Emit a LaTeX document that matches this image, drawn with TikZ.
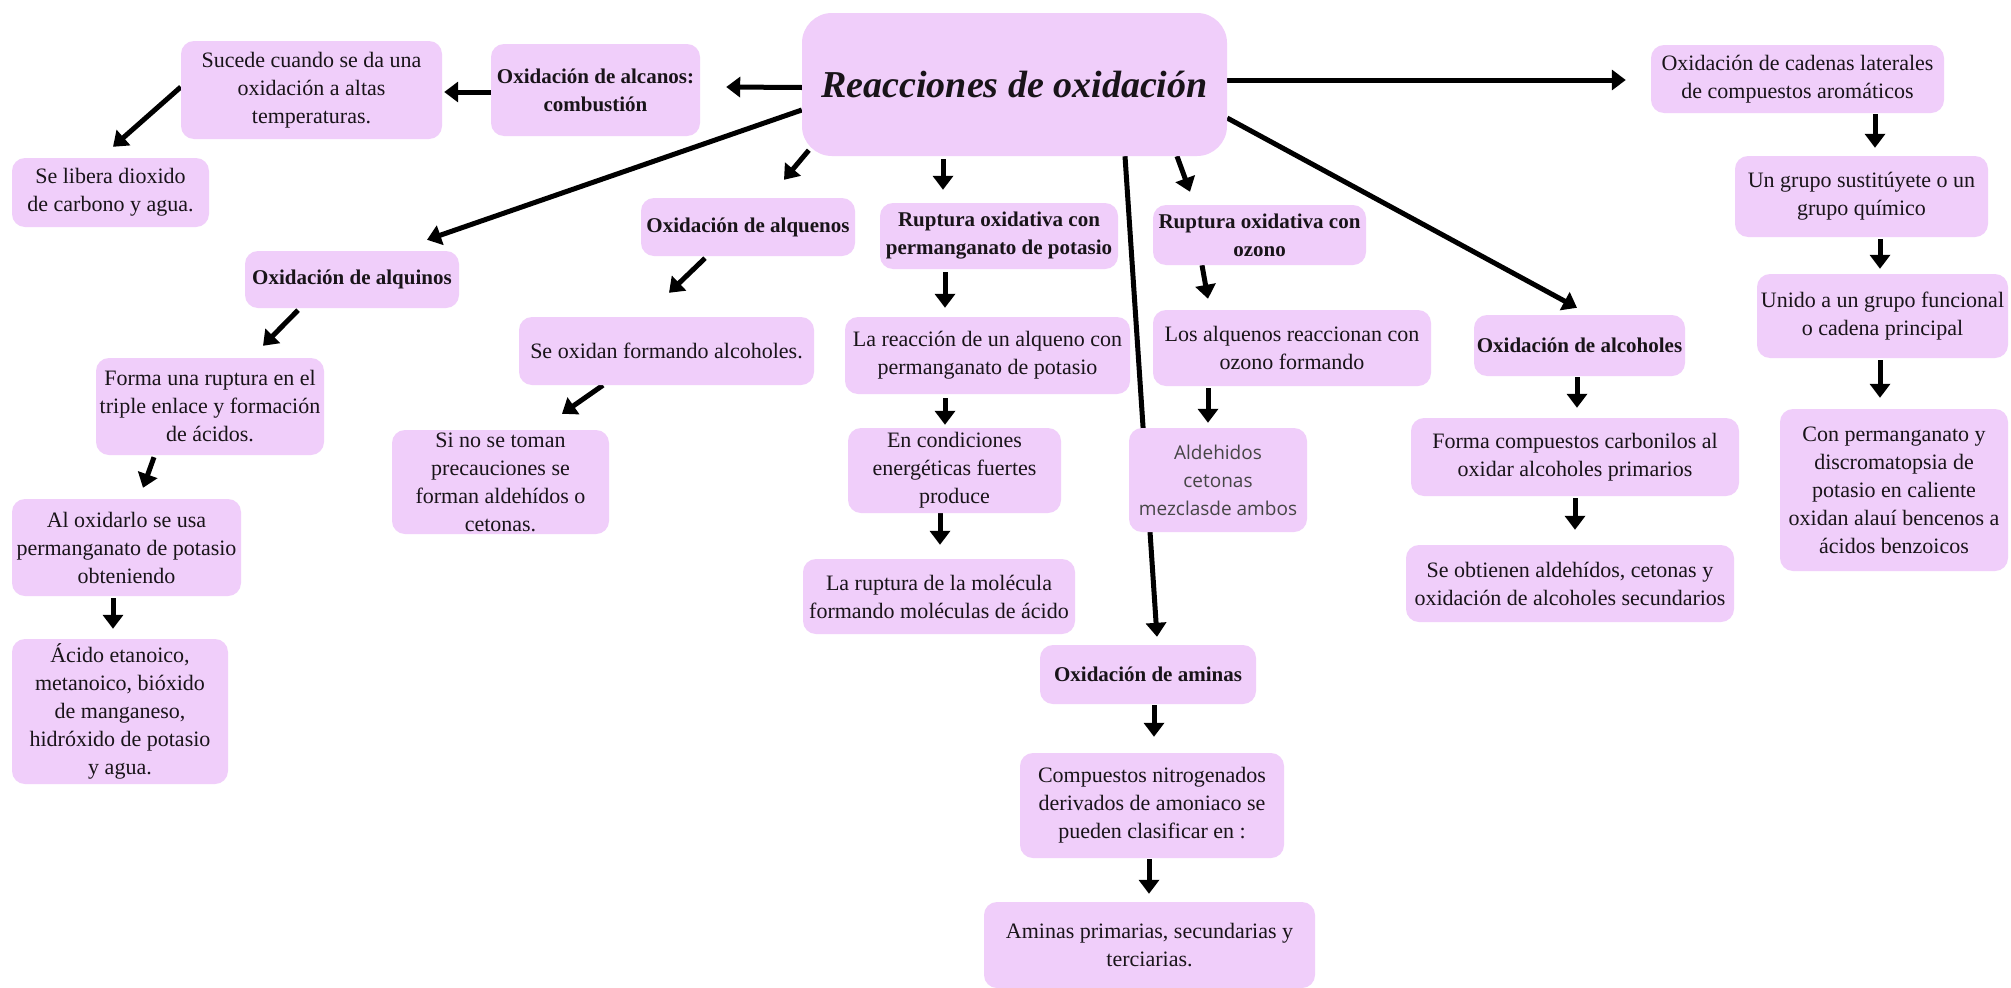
\documentclass[tikz,border=0pt]{standalone}
\usepackage{fontspec}
\setmainfont{Liberation Serif}
\newfontfamily\osans{Open Sans}
\usetikzlibrary{arrows.meta}
\definecolor{boxc}{RGB}{240,206,250}
\definecolor{txt}{RGB}{25,20,25}
\definecolor{graytxt}{RGB}{70,70,70}
\pgfdeclarelayer{background}
\pgfsetlayers{background,main}
\tikzset{
  box/.style={rounded corners=13pt, fill=boxc, align=center, inner sep=0pt, text=txt,
    font=\fontsize{22}{28}\selectfont},
  bbox/.style={box, font=\fontsize{21}{28}\selectfont\bfseries},
  wh/.style 2 args={minimum width=#1pt, minimum height=#2pt},
  arr/.style={line width=5pt, black, -{Triangle[width=20pt,length=14pt]}}
}
\begin{document}
\begin{tikzpicture}[x=1pt,y=-1pt]
\useasboundingbox (0,0) rectangle (2011,988);

% nodes
\node[box, wh={425}{143}, rounded corners=30pt, font=\fontsize{38}{44}\selectfont\bfseries\itshape] (title) at (1014.5,84.5) {Reacciones de oxidación};
\node[bbox, wh={209}{92}] (alcanos) at (595.5,90) {Oxidación de alcanos:\\combustión};
\node[box, wh={261}{98}] (sucede) at (311.5,90) {Sucede cuando se da una\\oxidación a altas\\temperaturas.};
\node[box, wh={197}{69}] (libera) at (110.5,192.5) {Se libera dioxido\\de carbono y agua.};
\node[bbox, wh={214}{57}] (alquinos) at (352,279.5) {Oxidación de alquinos};
\node[bbox, wh={214}{58}] (alquenos) at (748,227) {Oxidación de alquenos};
\node[bbox, wh={238}{66}] (rperm) at (999,236) {Ruptura oxidativa con\\permanganato de potasio};
\node[bbox, wh={213}{60}] (rozono) at (1259.5,235) {Ruptura oxidativa con\\ozono};
\node[bbox, wh={211}{61}] (alcoholes) at (1579.5,345.5) {Oxidación de alcoholes};
\node[box, wh={293}{68}] (cadenas) at (1797.5,79) {Oxidación de cadenas laterales\\de compuestos aromáticos};
\node[box, wh={253}{81}] (ungrupo) at (1861.5,196.5) {Un grupo sustitúyete o un\\grupo químico};
\node[box, wh={251}{84}] (unido) at (1882.5,316) {Unido a un grupo funcional\\o cadena principal};
\node[box, wh={228}{162}] (conperm) at (1894,490) {Con permanganato y\\discromatopsia de\\potasio en caliente\\oxidan alauí bencenos a\\ácidos benzoicos};
\node[box, wh={328}{78}] (fcarb) at (1575,457) {Forma compuestos carbonilos al\\oxidar alcoholes primarios};
\node[box, wh={328}{77}] (obtienen) at (1570,583.5) {Se obtienen aldehídos, cetonas y\\oxidación de alcoholes secundarios};
\node[box, wh={278}{76}] (losalq) at (1292,348) {Los alquenos reaccionan con\\ozono formando};
\node[box, wh={178}{104}, text=graytxt, font=\osans\fontsize{19}{28}\selectfont] (aldeh) at (1218,480) {Aldehidos\\cetonas\\mezclasde ambos};
\node[box, wh={285}{77}] (lareac) at (987.5,355.5) {La reacción de un alqueno con\\permanganato de potasio};
\node[box, wh={213}{85}] (encond) at (954.5,470.5) {En condiciones\\energéticas fuertes\\produce};
\node[box, wh={272}{75}] (laruptura) at (939,596.5) {La ruptura de la molécula\\formando moléculas de ácido};
\node[box, wh={295}{68}] (seoxidan) at (666.5,351) {Se oxidan formando alcoholes.};
\node[box, wh={217}{104}] (sinose) at (500.5,482) {Si no se toman\\precauciones se\\forman aldehídos o\\cetonas.};
\node[box, wh={228}{97}] (formarupt) at (210,406.5) {Forma una ruptura en el\\triple enlace y formación\\de ácidos.};
\node[box, wh={229}{97}] (aloxid) at (126.5,547.5) {Al oxidarlo se usa\\permanganato de potasio\\obteniendo};
\node[box, wh={216}{145}] (acido) at (120,711.5) {Ácido etanoico,\\metanoico, bióxido\\de manganeso,\\hidróxido de potasio\\y agua.};
\node[bbox, wh={216}{59}] (aminas) at (1148,674.5) {Oxidación de aminas};
\node[box, wh={264}{105}] (compuestos) at (1152,805.5) {Compuestos nitrogenados\\derivados de amoniaco se\\pueden clasificar en :};
\node[box, wh={331}{86}] (aminasp) at (1149.5,945) {Aminas primarias, secundarias y\\terciarias.};

% connectors
\begin{pgfonlayer}{background}
\fill[white] (0,0) rectangle (2011,988);
\draw[arr] ([shift={(0,3)}]title.west) -- ([shift={(26,-3)}]alcanos.east);
\draw[arr] ([shift={(0,2)}]alcanos.west) -- ([shift={(2,2)}]sucede.east);
\draw[arr] ([shift={(0,-3)}]sucede.west) -- ([shift={(2.5,-11)}]libera.north);
\draw[arr] ([shift={(0,25.5)}]title.west) -- ([shift={(75,-11)}]alquinos.north);
\draw[arr] ([shift={(7,-6)}]title.south west) -- ([shift={(36,-18)}]alquenos.north);
\draw[arr] ([shift={(-71.5,3)}]title.south) -- ([shift={(-56,-13)}]rperm.north);
\draw[arr] ([shift={(110.5,0)}]title.south) -- ([shift={(9,-8)}]aminas.north);
\draw[arr] ([shift={(162.5,0)}]title.south) -- ([shift={(-69.5,-13)}]rozono.north);
\draw[arr] ([shift={(0,33.5)}]title.east) -- ([shift={(-2.5,-7)}]alcoholes.north);
\draw[arr] ([shift={(0,-4.5)}]title.east) -- ([shift={(-25,1)}]cadenas.west);
\draw[arr] ([shift={(-54,2)}]alquinos.south) -- ([shift={(53,-12)}]formarupt.north);
\draw[arr] ([shift={(-56,2)}]formarupt.south) -- ([shift={(16.5,-11)}]aloxid.north);
\draw[arr] ([shift={(-13.5,2)}]aloxid.south) -- ([shift={(-7,-10)}]acido.north);
\draw[arr] ([shift={(-43,2)}]alquenos.south) -- ([shift={(2.5,-24)}]seoxidan.north);
\draw[arr] ([shift={(-63.5,0)}]seoxidan.south) -- ([shift={(61.5,-16)}]sinose.north);
\draw[arr] ([shift={(-54,3)}]rperm.south) -- ([shift={(-42.5,-9)}]lareac.north);
\draw[arr] ([shift={(-42.5,4)}]lareac.south) -- ([shift={(-9.5,-3)}]encond.north);
\draw[arr] ([shift={(-14.5,0)}]encond.south) -- ([shift={(1,-14)}]laruptura.north);
\draw[arr] ([shift={(-57.5,0)}]rozono.south) -- ([shift={(-84,-11)}]losalq.north);
\draw[arr] ([shift={(-84,2)}]losalq.south) -- ([shift={(-10,-5)}]aldeh.north);
\draw[arr] ([shift={(-2.5,1)}]alcoholes.south) -- ([shift={(2,-10)}]fcarb.north);
\draw[arr] ([shift={(0,2)}]fcarb.south) -- ([shift={(5,-15)}]obtienen.north);
\draw[arr] ([shift={(77.5,1)}]cadenas.south) -- ([shift={(13.5,-8)}]ungrupo.north);
\draw[arr] ([shift={(18.5,2)}]ungrupo.south) -- ([shift={(-2.5,-5)}]unido.north);
\draw[arr] ([shift={(-2.5,2)}]unido.south) -- ([shift={(-14,-11)}]conperm.north);
\draw[arr] ([shift={(6,1)}]aminas.south) -- ([shift={(2,-16)}]compuestos.north);
\draw[arr] ([shift={(-3,1)}]compuestos.south) -- ([shift={(-0.5,-8)}]aminasp.north);
\end{pgfonlayer}
\end{tikzpicture}
\end{document}
